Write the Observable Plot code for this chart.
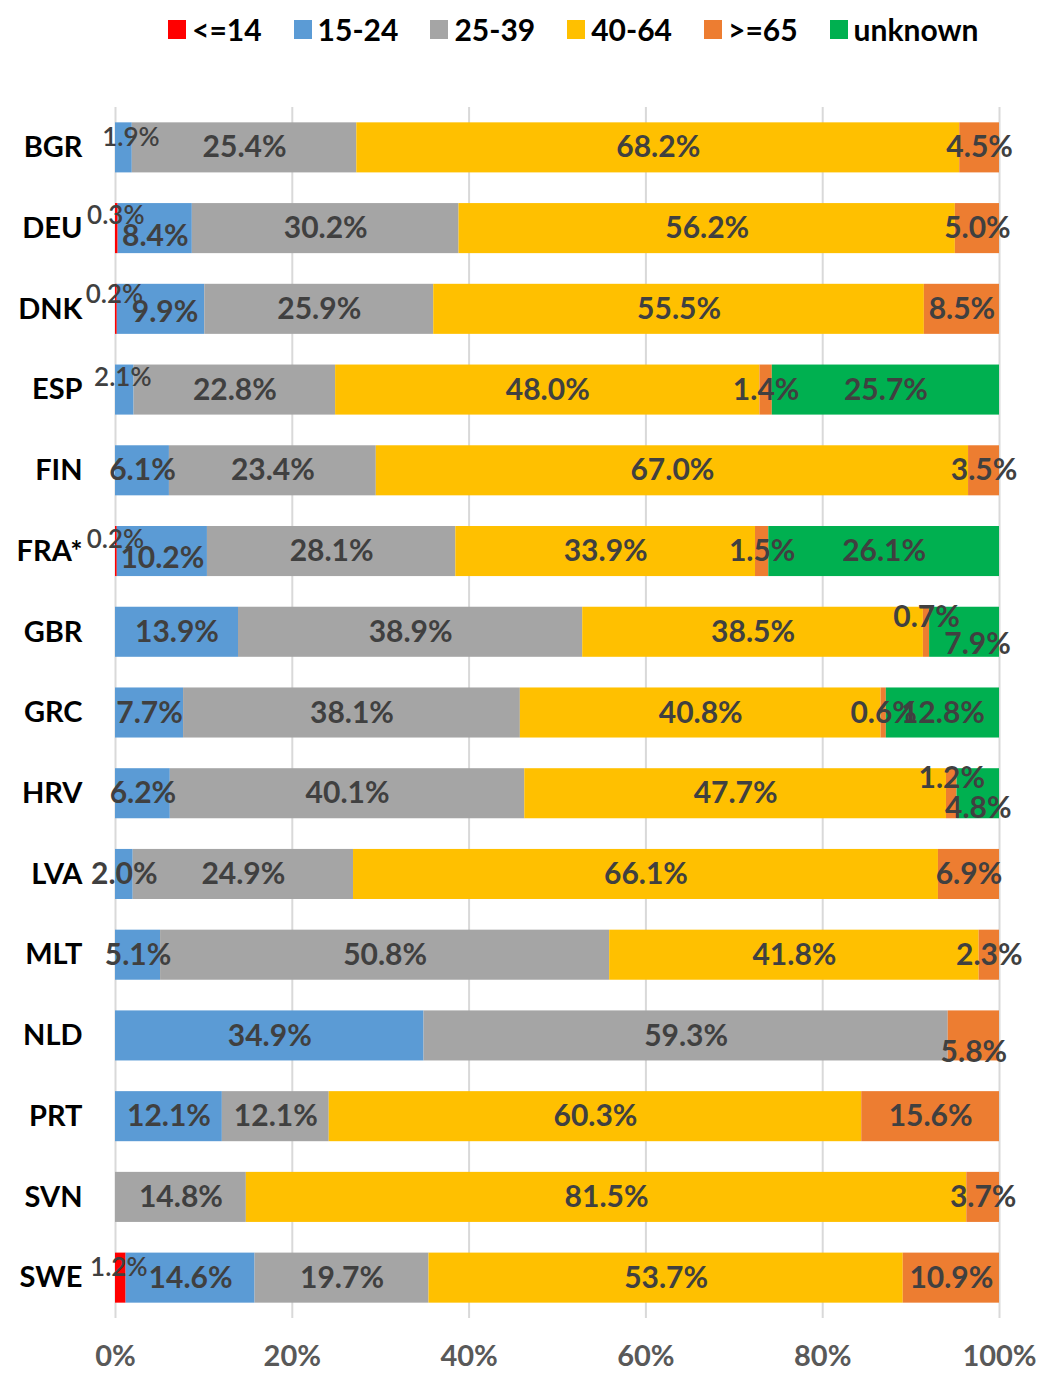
<!DOCTYPE html>
<html>
<head>
<meta charset="utf-8">
<script src="https://cdn.jsdelivr.net/npm/d3@7"></script>
<script src="https://cdn.jsdelivr.net/npm/@observablehq/plot@0.6"></script>
<style>
  html, body { margin: 0; padding: 0; background: #fff; }
  #legend { height: 58px; display: flex; align-items: center; padding-left: 168px; box-sizing: border-box;
            font-family: Lato, "Open Sans", sans-serif; font-weight: bold; font-size: 30px; color: #000; }
  .item { display: flex; align-items: center; margin-right: 32px; }
  .sw { width: 18px; height: 19px; margin-right: 6px; }
</style>
</head>
<body>
<div id="legend"></div>
<div id="chart"></div>
<script>
// ---- data ----
const countries = ["BGR","DEU","DNK","ESP","FIN","FRA*","GBR","GRC","HRV","LVA","MLT","NLD","PRT","SVN","SWE"];
const groups = ["<=14","15-24","25-39","40-64",">=65","unknown"];
const colors = ["#FF0000","#5B9BD5","#A5A5A5","#FFC000","#ED7D31","#00B050"];
const age0_14   = [0,   0.3, 0.2, 0,    0,    0.2,  0,    0,    0,    0,    0,    0,    0,    0,    1.2];
const age15_24  = [1.9, 8.4, 9.9, 2.1,  6.1,  10.2, 13.9, 7.7,  6.2,  2.0,  5.1,  34.9, 12.1, 0,    14.6];
const age25_39  = [25.4,30.2,25.9,22.8, 23.4, 28.1, 38.9, 38.1, 40.1, 24.9, 50.8, 59.3, 12.1, 14.8, 19.7];
const age40_64  = [68.2,56.2,55.5,48.0, 67.0, 33.9, 38.5, 40.8, 47.7, 66.1, 41.8, 0,    60.3, 81.5, 53.7];
const age65plus = [4.5, 5.0, 8.5, 1.4,  3.5,  1.5,  0.7,  0.6,  1.2,  6.9,  2.3,  5.8,  15.6, 3.7,  10.9];
const unknown   = [0,   0,   0,   25.7, 0,    26.1, 7.9,  12.8, 4.8,  0,    0,    0,    0,    0,    0];
const xTicks = [0, 0.2, 0.4, 0.6, 0.8, 1];

const series = [age0_14, age15_24, age25_39, age40_64, age65plus, unknown];
const rows = [];
countries.forEach((c, i) => groups.forEach((g, j) => rows.push({country: c, group: g, value: series[j][i]})));

// ---- label layout (offsets for crowded labels) ----
const nudges = [
  {c:"BGR", g:"15-24", dx:7, dy:-10, small:true},
  {c:"DEU", g:"<=14", dx:-1, dy:-13, small:true},
  {c:"DNK", g:"<=14", dx:-2, dy:-15, small:true},
  {c:"ESP", g:"15-24", dx:-2, dy:-12, small:true},
  {c:"FRA*", g:"<=14", dx:-1, dy:-12, small:true},
  {c:"SWE", g:"<=14", dx:-2, dy:-10, small:true},
  {c:"DEU", g:"15-24", dx:0, dy:8},
  {c:"DNK", g:"15-24", dx:4, dy:3},
  {c:"FRA*", g:"15-24", dx:0, dy:7},
  {c:"GBR", g:">=65", dx:0, dy:-15},
  {c:"GBR", g:"unknown", dx:13, dy:12},
  {c:"HRV", g:">=65", dx:0, dy:-15},
  {c:"HRV", g:"unknown", dx:0, dy:15},
  {c:"NLD", g:">=65", dx:0, dy:16}
];
const isNudged = d => nudges.some(n => n.c === d.country && n.g === d.group);
const fmt = v => v.toFixed(1) + "%";

// legend
const leg = document.getElementById("legend");
groups.forEach((g, i) => {
  const it = document.createElement("div"); it.className = "item";
  const sw = document.createElement("div"); sw.className = "sw"; sw.style.background = colors[i];
  const tx = document.createElement("span"); tx.textContent = g;
  it.appendChild(sw); it.appendChild(tx); leg.appendChild(it);
});

const stackOpts = {x: "value", y: "country", z: "group", order: groups, offset: "normalize"};
const labelFill = "#404040";

const marks = [
  Plot.ruleX(xTicks, {stroke: "#d9d9d9", strokeWidth: 2}),
  Plot.barX(rows, Plot.stackX({...stackOpts, fill: "group"})),
  Plot.text(rows, Plot.stackX({...stackOpts,
    text: d => (d.value > 0 && !isNudged(d)) ? fmt(d.value) : null,
    fontSize: 30, fontWeight: "bold", fill: labelFill}))
];
nudges.forEach(n => {
  marks.push(Plot.text(rows, Plot.stackX({...stackOpts,
    text: d => (d.country === n.c && d.group === n.g) ? fmt(d.value) : null,
    dx: n.dx, dy: n.dy,
    fontSize: n.small ? 26 : 30, fontWeight: n.small ? 600 : "bold", fill: labelFill})));
});
marks.push(Plot.axisX(xTicks, {tickSize: 0, tickPadding: 27, fontSize: 29, fontWeight: "bold",
  color: "#595959", tickFormat: d => Math.round(d * 100) + "%"}));
marks.push(Plot.axisY({tickSize: 0, tickPadding: 33, fontSize: 29, fontWeight: "bold", color: "#000"}));

const chart = Plot.plot({
  width: 1040, height: 1315,
  marginTop: 49, marginBottom: 55, marginLeft: 115, marginRight: 41,
  style: {fontFamily: "Lato, 'Open Sans', sans-serif", background: "#fff"},
  x: {domain: [0, 1], label: null, axis: null},
  y: {domain: countries, paddingInner: 0.38, paddingOuter: 0.19, round: false, label: null, axis: null},
  color: {domain: groups, range: colors},
  marks
});
document.getElementById("chart").appendChild(chart);
</script>
</body>
</html>
